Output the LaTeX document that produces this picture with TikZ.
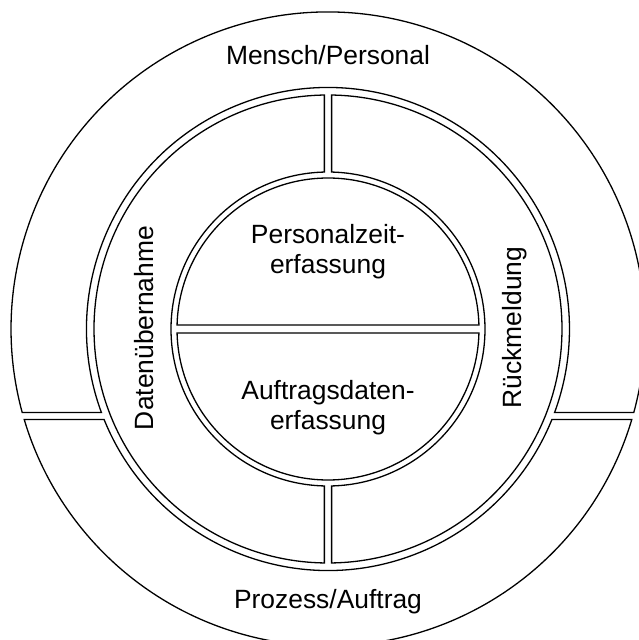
\documentclass[tikz,border=0pt]{standalone}
\usepackage{fontspec}
\setmainfont{Liberation Sans}
\usepackage{tikz}

\begin{document}
\begin{tikzpicture}[x=1pt, y=1pt,
      seg/.style={draw, line width=1.3pt},
      lbl/.style={font=\fontsize{26.4}{30.5}\selectfont, inner sep=0pt, align=center}]
    \useasboundingbox (-328,-311) rectangle (311,329);
    % outer ring
    \draw[seg] ({-asin(83.5/317)}:317pt) arc[start angle={-asin(83.5/317)}, end angle={180+asin(83.5/317)}, radius=317pt]
      -- ({180+asin(83.5/241.5)}:241.5pt) arc[start angle={180+asin(83.5/241.5)}, end angle={-asin(83.5/241.5)}, radius=241.5pt] -- cycle;
    \draw[seg] ({-asin(90.5/317)}:317pt) arc[start angle={-asin(90.5/317)}, end angle={-180+asin(90.5/317)}, radius=317pt]
      -- ({-180+asin(90.5/241.5)}:241.5pt) arc[start angle={-180+asin(90.5/241.5)}, end angle={-asin(90.5/241.5)}, radius=241.5pt] -- cycle;
    % middle ring
    \draw[seg] ({90+asin(3.65/234)}:234pt) arc[start angle={90+asin(3.65/234)}, end angle={270-asin(3.65/234)}, radius=234pt]
      -- ({270-asin(3.65/157)}:157pt) arc[start angle={270-asin(3.65/157)}, end angle={90+asin(3.65/157)}, radius=157pt] -- cycle;
    \draw[seg] ({90-asin(3.65/234)}:234pt) arc[start angle={90-asin(3.65/234)}, end angle={-90+asin(3.65/234)}, radius=234pt]
      -- ({-90+asin(3.65/157)}:157pt) arc[start angle={-90+asin(3.65/157)}, end angle={90-asin(3.65/157)}, radius=157pt] -- cycle;
    % inner circle
    \draw[seg] ({asin(4/151)}:151pt) arc[start angle={asin(4/151)}, end angle={180-asin(4/151)}, radius=151pt] -- cycle;
    \draw[seg] ({-asin(4/151)}:151pt) arc[start angle={-asin(4/151)}, end angle={-180+asin(4/151)}, radius=151pt] -- cycle;
    % labels
    \node[lbl, anchor=base] (mensch) at (0,264) {Mensch/Personal};
    \node[lbl, anchor=base] (prozess) at (0,-279.3) {Prozess/Auftrag};
    \node[lbl] (pze) at (0,77.5) {Personalzeit-\\erfassung};
    \node[lbl] (bde) at (0,-78.5) {Auftragsdaten-\\erfassung};
    \node[lbl, anchor=base, rotate=90] (daten) at (-174,1) {Datenübernahme};
    \node[lbl, anchor=base, rotate=90] (rueck) at (193.6,1.4) {Rückmeldung};
  \end{tikzpicture}
\end{document}
